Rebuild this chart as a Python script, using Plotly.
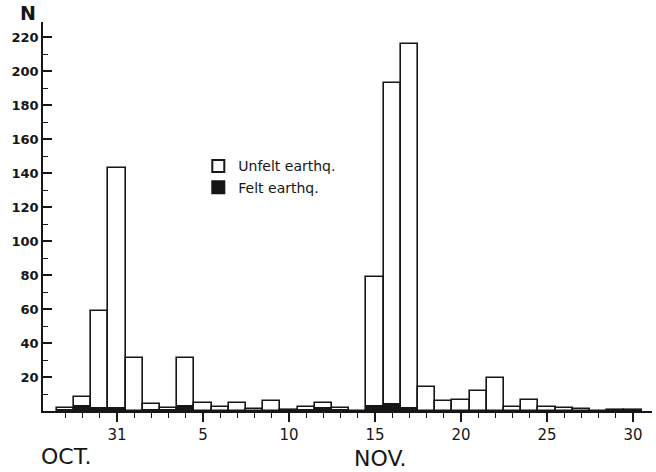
import plotly.graph_objects as go

# Days from Oct 28 to Nov 30 (index 0 = Oct 31)
day_labels = ["Oct 28", "Oct 29", "Oct 30", "Oct 31"] + [f"Nov {d}" for d in range(1, 31)]
day_offset = list(range(-3, 31))

# Number of earthquakes per day (total bar height) and felt part
unfelt = [1.5, 8, 59, 143, 31, 4, 1.5, 31, 4.5, 2.5, 5, 1, 6, 0.5, 2.5, 5,
          2, 0, 79, 193, 216, 14, 6, 6.5, 11.5, 19.5, 2.5, 6.5, 2.5, 2, 1, 0, 0.5, 0.5]
felt = [0.5, 3, 1.5, 1.5, 0, 0.5, 0.5, 3, 0, 0, 0, 0, 0, 0, 0.5, 1.5,
        0.5, 0, 3, 4, 2, 0, 0, 0, 0, 0, 0, 0, 0, 0, 0, 0, 0.5, 0.5]

x_tick_vals = [0, 5, 10, 15, 20, 25, 30]
x_tick_text = ["31", "5", "10", "15", "20", "25", "30"]
y_tick_vals = list(range(20, 221, 20))
y_minor_vals = list(range(10, 220, 20))

INK = "#161616"
FONT = "DejaVu Sans"

fig = go.Figure()
fig.add_trace(go.Bar(
    x=day_offset, y=unfelt, width=1, name="Unfelt earthq.",
    marker=dict(color="white", line=dict(color=INK, width=1.6)),
    customdata=day_labels, hovertemplate="%{customdata}: %{y}<extra></extra>",
))
fig.add_trace(go.Bar(
    x=day_offset, y=felt, width=1, name="Felt earthq.",
    marker=dict(color=INK, line=dict(color=INK, width=1)),
    customdata=day_labels, hovertemplate="%{customdata}: %{y}<extra></extra>",
))

fig.update_layout(
    width=656, height=472,
    margin=dict(l=43, r=4, t=22, b=61, autoexpand=False),
    paper_bgcolor="white", plot_bgcolor="white",
    barmode="overlay", bargap=0,
    font=dict(family=FONT, color=INK),
    showlegend=True,
    legend=dict(
        x=0.255, y=0.67, xanchor="left", yanchor="top",
        bgcolor="rgba(0,0,0,0)", borderwidth=0,
        font=dict(family=FONT, size=14, color=INK),
        tracegroupgap=0, itemsizing="constant",
    ),
    xaxis=dict(
        range=[-4.3, 31.1], showgrid=False, zeroline=False, automargin=False,
        showline=True, linecolor=INK, linewidth=1.5,
        tickmode="array", tickvals=x_tick_vals, ticktext=x_tick_text,
        ticks="outside", ticklen=9, tickwidth=1.5, tickcolor=INK,
        tickfont=dict(family=FONT, size=15, color=INK),
        minor=dict(tickmode="array", tickvals=day_offset, ticks="outside",
                   ticklen=5, tickwidth=1.2, tickcolor=INK, showgrid=False),
    ),
    yaxis=dict(
        range=[0, 229], showgrid=False, zeroline=False, automargin=False,
        showline=True, linecolor=INK, linewidth=1.5,
        tickmode="array", tickvals=y_tick_vals,
        ticks="inside", ticklen=9, tickwidth=1.5, tickcolor=INK,
        tickfont=dict(family=FONT, size=13, color=INK, weight="bold"),
        minor=dict(tickmode="array", tickvals=y_minor_vals, ticks="inside",
                   ticklen=5, tickwidth=1.2, tickcolor=INK, showgrid=False),
    ),
)

fig.add_annotation(text="N", xref="paper", yref="paper", x=0, y=1,
                   xshift=-15, yshift=9, xanchor="center", yanchor="middle",
                   showarrow=False, font=dict(family=FONT, size=19, color=INK, weight="bold"))
fig.add_annotation(text="OCT.", xref="x", yref="paper", x=-2.95, y=0,
                   yshift=-45, xanchor="center", yanchor="middle",
                   showarrow=False, font=dict(family=FONT, size=22, color=INK))
fig.add_annotation(text="NOV.", xref="x", yref="paper", x=15.3, y=0,
                   yshift=-47, xanchor="center", yanchor="middle",
                   showarrow=False, font=dict(family=FONT, size=22, color=INK))

fig.write_html(
    "out.html",
    config={"displayModeBar": False},
    post_script="document.body.style.margin='0';document.body.style.overflow='hidden';",
)
